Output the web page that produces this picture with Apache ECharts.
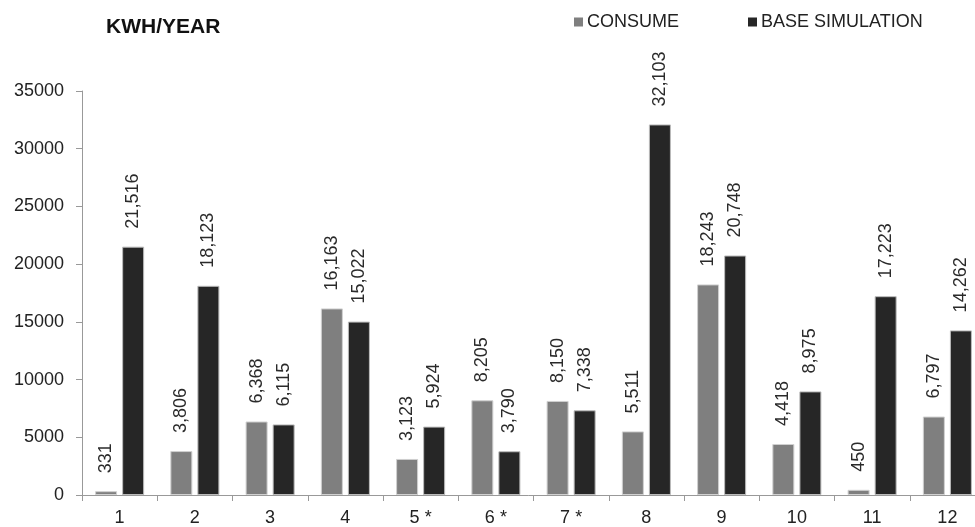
<!DOCTYPE html>
<html>
<head>
<meta charset="utf-8">
<script src="https://cdn.jsdelivr.net/npm/echarts@6/dist/echarts.min.js"></script>
<style>html,body{margin:0;padding:0;background:#fff}#c{width:975px;height:527px}</style>
</head>
<body>
<div id="c"></div>
<script>
const categories = ['1','2','3','4','5 *','6 *','7 *','8','9','10','11','12'];
const consume = [331, 3806, 6368, 16163, 3123, 8205, 8150, 5511, 18243, 4418, 450, 6797];
const baseSimulation = [21516, 18123, 6115, 15022, 5924, 3790, 7338, 32103, 20748, 8975, 17223, 14262];
const yTicks = {min: 0, max: 35000, interval: 5000};

const font = 'Liberation Sans, Arial, sans-serif';
const chart = echarts.init(document.getElementById('c'));
const labelCfg = {
  show: true, position: 'top', rotate: 90, align: 'left', verticalAlign: 'middle',
  distance: 18, color: '#2a2a2a', fontSize: 18, fontFamily: font,
  formatter: p => p.value.toLocaleString('en-US')
};
chart.setOption({
  animation: false,
  backgroundColor: '#fff',
  title: {
    text: 'KWH/YEAR', left: 101, top: 12,
    textStyle: {fontSize: 21, fontWeight: 'bold', color: '#111', fontFamily: font}
  },
  legend: {
    left: 569, top: 8, itemWidth: 9, itemHeight: 9, itemGap: 69,
    icon: 'rect',
    itemStyle: {borderWidth: 0},
    textStyle: {fontSize: 18, color: '#222', fontFamily: font, padding: [0,0,0,-1]},
    data: ['CONSUME', 'BASE SIMULATION']
  },
  grid: {left: 82, top: 91, width: 903, bottom: 32, containLabel: false, outerBoundsMode: 'none'},
  xAxis: {
    type: 'category', data: categories,
    axisLine: {lineStyle: {color: '#999', width: 1}},
    axisTick: {show: true, length: 6, lineStyle: {color: '#999'}},
    axisLabel: {fontSize: 18, color: '#222', fontFamily: font, margin: 14},
    splitLine: {show: false}
  },
  yAxis: {
    type: 'value', min: yTicks.min, max: yTicks.max, interval: yTicks.interval,
    axisLine: {show: true, lineStyle: {color: '#999', width: 1}},
    axisTick: {show: true, length: 6, lineStyle: {color: '#999'}},
    axisLabel: {fontSize: 18, color: '#222', fontFamily: font, margin: 18, formatter: v => String(v)},
    splitLine: {show: false}
  },
  series: [
    {
      name: 'CONSUME', type: 'bar', data: consume, barWidth: 22, barGap: '23%',
      itemStyle: {color: '#7f7f7f', borderColor: '#d0d0d0', borderWidth: 1},
      label: labelCfg
    },
    {
      name: 'BASE SIMULATION', type: 'bar', data: baseSimulation, barWidth: 22,
      itemStyle: {color: '#262626', borderColor: '#bbbbbb', borderWidth: 1},
      label: labelCfg
    }
  ]
});
</script>
</body>
</html>
